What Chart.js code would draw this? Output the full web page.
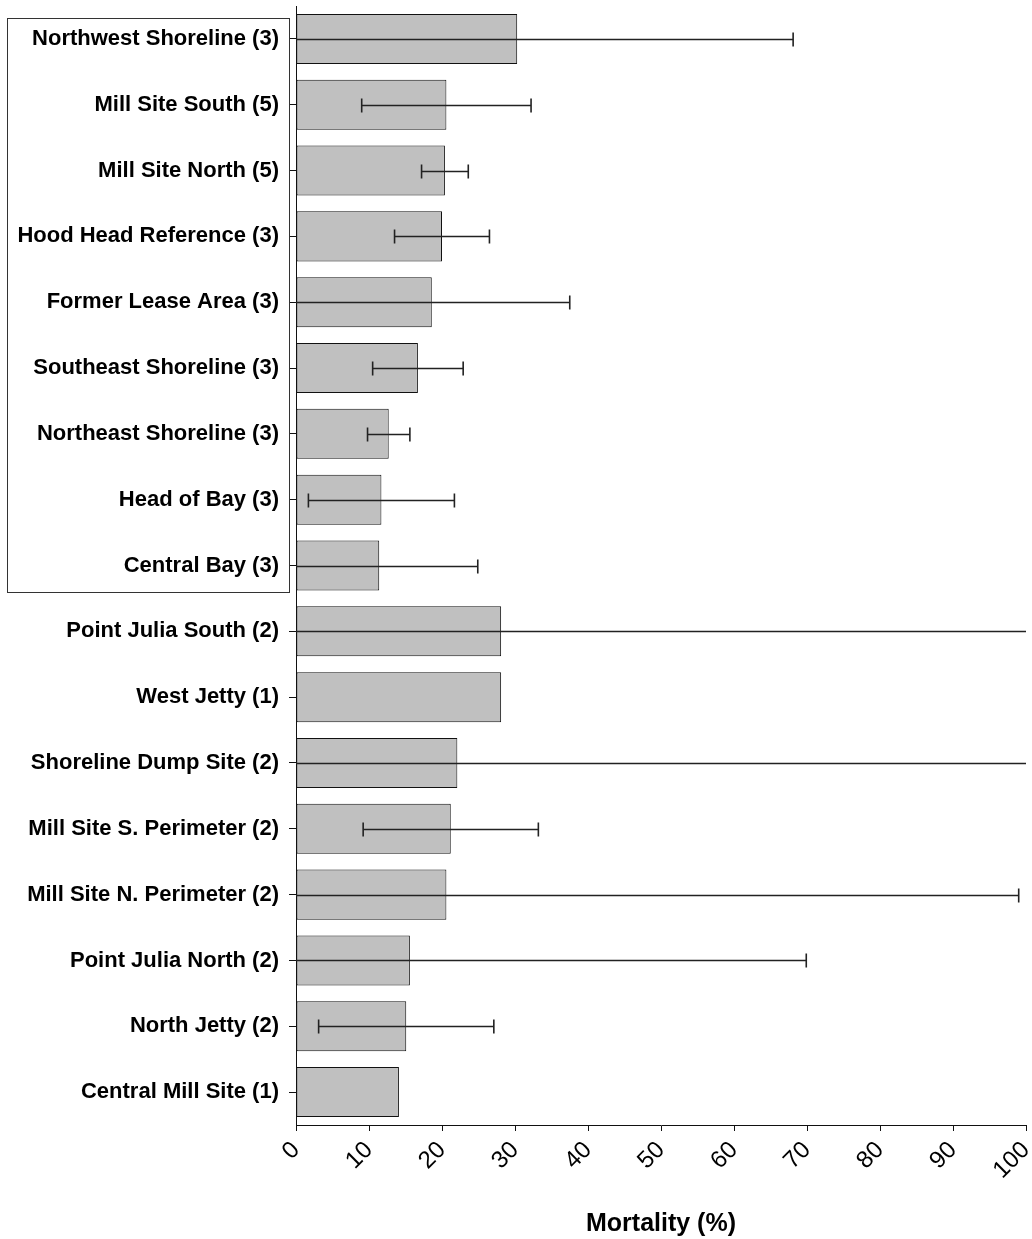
<!DOCTYPE html>
<html>
<head>
<meta charset="utf-8">
<script src="https://cdn.jsdelivr.net/npm/chart.js@4.4.1/dist/chart.umd.min.js"></script>
<style>
    html, body { margin: 0; padding: 0; background: #fff; }
    #wrap { width: 1032px; height: 1239px; }
</style>
</head>
<body>
<div id="wrap"><canvas id="mortalityChart" width="1032" height="1239"></canvas></div>
<script>
// Sites, top to bottom
const sites = [
    "Northwest Shoreline (3)",
    "Mill Site South (5)",
    "Mill Site North (5)",
    "Hood Head Reference (3)",
    "Former Lease Area (3)",
    "Southeast Shoreline (3)",
    "Northeast Shoreline (3)",
    "Head of Bay (3)",
    "Central Bay (3)",
    "Point Julia South (2)",
    "West Jetty (1)",
    "Shoreline Dump Site (2)",
    "Mill Site S. Perimeter (2)",
    "Mill Site N. Perimeter (2)",
    "Point Julia North (2)",
    "North Jetty (2)",
    "Central Mill Site (1)"
];

// Mean mortality (%)
const mortality = [30.3, 20.6, 20.4, 20.0, 18.6, 16.7, 12.7, 11.7, 11.4, 28.1, 28.1, 22.1, 21.2, 20.6, 15.6, 15.1, 14.1];

// Error bar half widths (null = single sample, no bar)
const mortalityErr = [37.8, 11.6, 3.2, 6.5, 18.9, 6.2, 2.9, 10.0, 13.5, 80, null, 85, 12.0, 78.4, 54.3, 12.0, null];

const xTicks = [0, 10, 20, 30, 40, 50, 60, 70, 80, 90, 100];

// index range of the sites framed by the label box
const boxedFirst = 0;
const boxedLast = 8;

const FONT = "'Liberation Sans', Arial, sans-serif";

const errorBarPlugin = {
    id: "errorBars",
    afterDatasetsDraw(chart) {
        const { ctx, chartArea, scales: { x, y } } = chart;
        ctx.save();
        ctx.beginPath();
        ctx.rect(chartArea.left - 8, chartArea.top, chartArea.right - chartArea.left + 8, chartArea.bottom - chartArea.top);
        ctx.clip();
        ctx.strokeStyle = "#222";
        ctx.lineWidth = 1.6;
        mortality.forEach((v, i) => {
            const err = mortalityErr[i];
            if (err === null) return;
            const yc = Math.round(y.getPixelForValue(i)) + 0.5;
            const xl = x.getPixelForValue(v - err);
            const xr = x.getPixelForValue(v + err);
            const left = Math.max(xl, chartArea.left);
            const right = Math.min(xr, chartArea.right + 2);
            ctx.beginPath();
            ctx.moveTo(left, yc);
            ctx.lineTo(right, yc);
            // caps only where the bound is inside the axis range
            if (v - err >= 0) {
                ctx.moveTo(xl, yc - 7);
                ctx.lineTo(xl, yc + 7);
            }
            if (v + err <= 100) {
                ctx.moveTo(xr, yc - 7);
                ctx.lineTo(xr, yc + 7);
            }
            ctx.stroke();
        });
        ctx.restore();
    }
};

const labelBoxPlugin = {
    id: "labelBox",
    afterDraw(chart) {
        const { ctx, scales: { x, y } } = chart;
        const top = y.getPixelForValue(boxedFirst) - 20.6;
        const bottom = y.getPixelForValue(boxedLast) + 26.8;
        const right = x.left - 7;
        const left = 7;
        ctx.save();
        ctx.strokeStyle = "#333";
        ctx.lineWidth = 1;
        ctx.strokeRect(left + 0.5, Math.round(top) + 0.5, right - left, Math.round(bottom - top));
        ctx.restore();
    }
};

new Chart(document.getElementById("mortalityChart"), {
    type: "bar",
    data: {
        labels: sites,
        datasets: [{
            label: "Mortality (%)",
            data: mortality,
            backgroundColor: "#c0c0c0",
            borderColor: "#111",
            borderWidth: 1,
            borderSkipped: false,
            categoryPercentage: 1,
            barPercentage: 0.76
        }]
    },
    options: {
        indexAxis: "y",
        responsive: false,
        animation: false,
        layout: {
            padding: { top: 6, right: 6, bottom: 0, left: 0 }
        },
        plugins: {
            legend: { display: false },
            tooltip: { enabled: false }
        },
        scales: {
            x: {
                type: "linear",
                min: 0,
                max: 100,
                afterBuildTicks: (scale) => {
                    scale.ticks = xTicks.map(v => ({ value: v }));
                },
                afterFit: (scale) => {
                    scale.height = 114;
                    scale.paddingLeft = 0;
                    scale.paddingRight = 0;
                },
                grid: {
                    display: true,
                    drawOnChartArea: false,
                    drawTicks: true,
                    tickLength: 6,
                    color: "#111"
                },
                border: { display: true, color: "#111", width: 1 },
                ticks: {
                    minRotation: 45,
                    maxRotation: 45,
                    padding: 5,
                    color: "#000",
                    font: { family: FONT, size: 24 }
                },
                title: {
                    display: true,
                    text: "Mortality (%)",
                    color: "#000",
                    padding: { top: 0, bottom: 0 },
                    font: { family: FONT, size: 25, weight: "bold" }
                }
            },
            y: {
                type: "category",
                offset: true,
                afterFit: (scale) => {
                    scale.width = 296;
                    scale.paddingTop = 0;
                    scale.paddingBottom = 0;
                },
                grid: {
                    display: true,
                    offset: false,
                    drawOnChartArea: false,
                    drawTicks: true,
                    tickLength: 7,
                    color: "#111"
                },
                border: { display: true, color: "#111", width: 1 },
                ticks: {
                    padding: 10,
                    autoSkip: false,
                    color: "#000",
                    font: { family: FONT, size: 22, weight: "bold" }
                }
            }
        }
    },
    plugins: [errorBarPlugin, labelBoxPlugin]
});
</script>
</body>
</html>
